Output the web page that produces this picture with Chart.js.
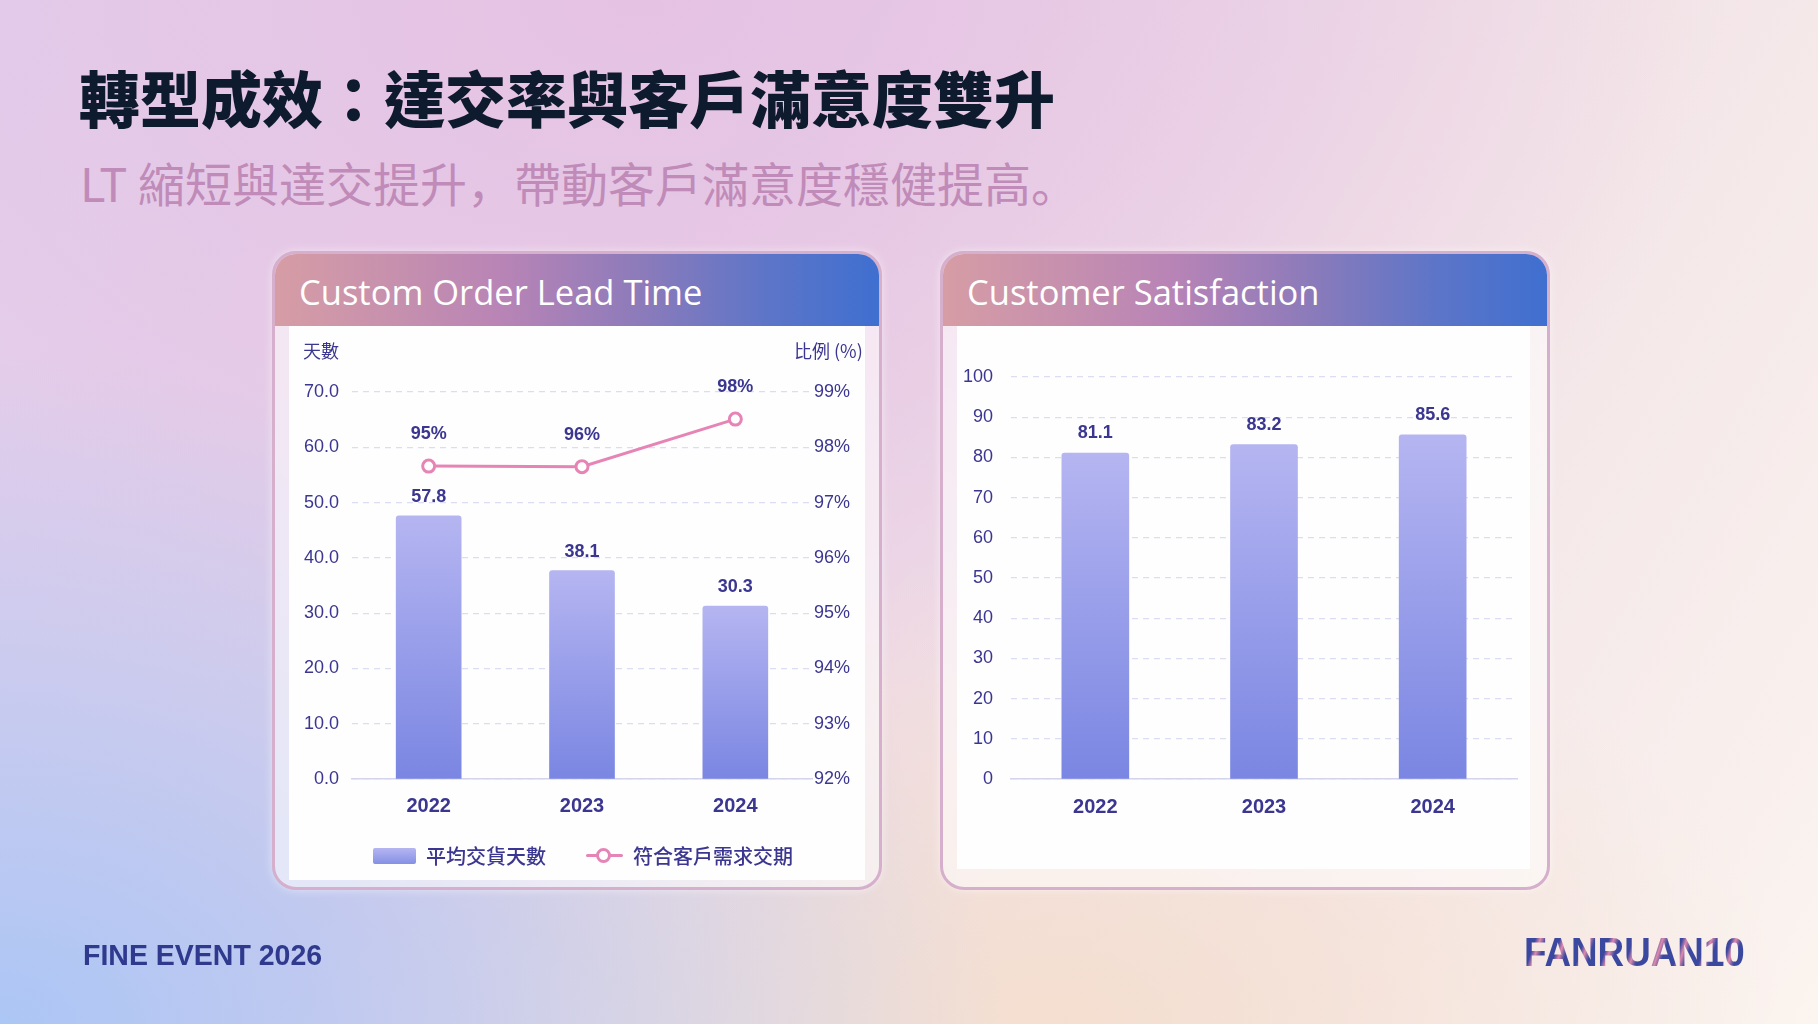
<!DOCTYPE html>
<html lang="zh-Hant">
<head>
<meta charset="utf-8">
<title>轉型成效：達交率與客戶滿意度雙升</title>
<script src="https://cdn.jsdelivr.net/npm/chart.js@4.4.1/dist/chart.umd.min.js"></script>
<style>
  html, body { margin: 0; padding: 0; }
  body {
    width: 1818px; height: 1024px; position: relative; overflow: hidden;
    font-family: "Noto Sans CJK TC", "Noto Sans", sans-serif;
    background:
      radial-gradient(ellipse 55% 65% at 0% 100%, rgba(172,198,245,1) 0%, rgba(172,198,245,0) 100%),
      radial-gradient(ellipse 40% 45% at 58% 100%, rgba(244,222,206,0.95) 0%, rgba(244,222,206,0) 100%),
      radial-gradient(ellipse 60% 70% at 35% 0%, rgba(229,194,228,1) 0%, rgba(229,194,228,0) 100%),
      linear-gradient(120deg, #e2cfee 0%, #e8cfe5 35%, #f2e3e7 65%, #fbf4ef 100%);
  }
  .title {
    position: absolute; left: 79px; top: 66px;
    font-size: 61px; line-height: 61px; font-weight: 900; color: #0e1a2d;
    white-space: nowrap;
  }
  .subtitle {
    position: absolute; left: 80px; top: 158px;
    font-family: "Noto Sans CJK SC", "Noto Sans CJK TC", sans-serif;
    font-size: 47px; line-height: 47px; font-weight: 400; color: #c08bb8;
    white-space: nowrap;
  }
  .card {
    position: absolute; top: 251px; width: 610px; height: 639px;
    box-sizing: border-box; border: 3px solid #d5afcc; border-radius: 24px;
    background: rgba(255,255,255,0.55); overflow: hidden;
    box-shadow: 0 0 10px rgba(255,255,255,0.5);
  }
  .head {
    height: 72px; box-sizing: border-box; padding-left: 24px; padding-top: 4px;
    background: linear-gradient(90deg, #d69da5 0%, #b884b6 38%, #8d7bba 60%, #5c75c8 82%, #3f6fd0 100%);
    font-family: "Open Sans", "Noto Sans", sans-serif; font-size: 34.5px; font-weight: 500; line-height: 68px;
    color: #fff; white-space: nowrap;
  }
  .panel { position: absolute; top: 72px; left: 14px; background: #fefeff; }
  .axis-note {
    position: absolute; font-size: 18px; line-height: 18px; color: #3b3690; white-space: nowrap;
  }
  .legend-text {
    position: absolute; font-size: 20px; line-height: 20px; font-weight: 500; color: #3b3690; white-space: nowrap;
  }
  .swatch {
    position: absolute; left: 373px; top: 848px; width: 43px; height: 16px; border-radius: 2px;
    background: linear-gradient(180deg, #b5b5f1, #8590e4);
  }
  .leg-line { position: absolute; left: 586px; top: 854px; width: 37px; height: 3px; background: #e685b5; border-radius: 2px; }
  .leg-dot {
    position: absolute; left: 596px; top: 848px; width: 9px; height: 9px; border-radius: 50%;
    background: #fff; border: 3px solid #e685b5;
  }
  .footer {
    position: absolute; left: 83px; top: 939px; font-family: "Liberation Sans", Arial, sans-serif;
    font-weight: 700; font-size: 30px; line-height: 32px; color: #2f3a8e;
    transform: scaleX(0.95); transform-origin: left center; white-space: nowrap;
  }
  .logo {
    position: absolute; left: 1524px; top: 932px; font-family: "Liberation Sans", Arial, sans-serif;
    font-weight: 700; font-size: 40px; line-height: 40px; white-space: nowrap;
    transform: scaleX(0.92); transform-origin: left center;
    background: repeating-linear-gradient(110deg, #3b48a0 0px, #3b48a0 14px, #e08aac 19px, #3b48a0 25px);
    -webkit-background-clip: text; background-clip: text; color: transparent;
  }
  canvas { position: absolute; }
</style>
</head>
<body>
<div class="title">轉型成效：達交率與客戶滿意度雙升</div>
<div class="subtitle" lang="zh-Hans">LT 縮短與達交提升，帶動客戶滿意度穩健提高。</div>

<div class="card" style="left:272px;">
  <div class="head">Custom Order Lead Time</div>
  <div class="panel" style="width:576px;height:554px;"></div>
</div>
<div class="card" style="left:940px;">
  <div class="head">Customer Satisfaction</div>
  <div class="panel" style="width:573px;height:543px;"></div>
</div>

<canvas id="leadChart" width="576" height="554" style="left:289px;top:327px;"></canvas>
<canvas id="satChart" width="573" height="543" style="left:957px;top:327px;"></canvas>

<div class="axis-note" style="left:303px;top:341px;">天數</div>
<div class="axis-note" style="left:794px;top:341px;">比例 (%)</div>

<div class="swatch"></div>
<div class="legend-text" style="left:426px;top:846px;">平均交貨天數</div>
<div class="leg-line"></div>
<div class="leg-dot"></div>
<div class="legend-text" style="left:633px;top:846px;">符合客戶需求交期</div>

<div class="footer">FINE EVENT 2026</div>
<div class="logo">FANRUAN10</div>

<script>
// categories
const years = ['2022', '2023', '2024'];

// lead time chart: bar heights as drawn, and the printed labels
const leadDays = [47.6, 37.7, 31.3];
const leadDayLabels = ['57.8', '38.1', '30.3'];
const onTimeRate = [97.66, 97.65, 98.51];
const onTimeLabels = ['95%', '96%', '98%'];

// satisfaction chart
const satScores = [81.1, 83.2, 85.6];
const satLabels = ['81.1', '83.2', '85.6'];

// axis ticks
const leadDayTicks = [0, 10, 20, 30, 40, 50, 60, 70];
const rateTicks = [92, 93, 94, 95, 96, 97, 98, 99];
const satTicks = [0, 10, 20, 30, 40, 50, 60, 70, 80, 90, 100];

const textColor = '#3b3690';
const gridColor = '#dcdcf2';
const pink = '#e685b5';

function barFill(context) {
    const chart = context.chart;
    const area = chart.chartArea;
    if (!area || context.raw === undefined) return '#9aa0ea';
    const top = chart.scales.y.getPixelForValue(context.raw);
    const g = chart.ctx.createLinearGradient(0, top, 0, area.bottom);
    g.addColorStop(0, '#b5b5f1');
    g.addColorStop(1, '#7a86e2');
    return g;
}

// draws the printed value above each bar / point
const valueLabels = {
    id: 'valueLabels',
    afterDatasetsDraw(chart) {
        const ctx = chart.ctx;
        ctx.save();
        ctx.fillStyle = textColor;
        ctx.font = 'bold 18px "Liberation Sans", Arial, sans-serif';
        ctx.textAlign = 'center';
        ctx.textBaseline = 'middle';
        chart.data.datasets.forEach((ds, i) => {
            if (!ds.valueText) return;
            const meta = chart.getDatasetMeta(i);
            meta.data.forEach((el, j) => {
                ctx.fillText(ds.valueText[j], el.x, el.y - ds.valueGap);
            });
        });
        ctx.restore();
    }
};

Chart.defaults.font.family = '"Liberation Sans", Arial, sans-serif';
Chart.defaults.color = textColor;
Chart.defaults.devicePixelRatio = 1;

new Chart(document.getElementById('leadChart'), {
    type: 'bar',
    data: {
        labels: years,
        datasets: [{
            type: 'line',
            label: '符合客戶需求交期',
            data: onTimeRate,
            yAxisID: 'y1',
            order: 0,
            borderColor: pink,
            borderWidth: 3,
            pointRadius: 6,
            pointBorderWidth: 3,
            pointBackgroundColor: '#ffffff',
            pointBorderColor: pink,
            tension: 0,
            valueText: onTimeLabels,
            valueGap: 32
        }, {
            label: '平均交貨天數',
            data: leadDays,
            yAxisID: 'y',
            order: 1,
            backgroundColor: barFill,
            barThickness: 65,
            borderRadius: { topLeft: 3, topRight: 3 },
            borderSkipped: 'bottom',
            valueText: leadDayLabels,
            valueGap: 19
        }]
    },
    options: {
        responsive: false,
        animation: false,
        layout: { padding: { top: 65, left: 0, right: 0, bottom: 0 } },
        plugins: { legend: { display: false }, tooltip: { enabled: false } },
        scales: {
            x: {
                grid: { display: false, drawTicks: false },
                border: { display: true, color: '#d4d4ee', width: 1.5 },
                ticks: { padding: 15, font: { size: 20, weight: 'bold' }, color: textColor },
                afterFit(scale) { scale.height = 102; }
            },
            y: {
                min: 0, max: 70,
                afterBuildTicks(scale) { scale.ticks = leadDayTicks.map(v => ({ value: v })); },
                grid: { color: gridColor, lineWidth: 1.2, drawTicks: false },
                border: { display: false, dash: [6, 5] },
                ticks: { padding: 13, font: { size: 18 }, color: textColor, callback: v => v.toFixed(1) },
                afterFit(scale) { scale.width = 63; }
            },
            y1: {
                position: 'right',
                min: 92, max: 99,
                afterBuildTicks(scale) { scale.ticks = rateTicks.map(v => ({ value: v })); },
                grid: { display: false, drawTicks: false },
                border: { display: false },
                ticks: { padding: 2, font: { size: 18 }, color: textColor, callback: v => v + '%' },
                afterFit(scale) { scale.width = 53; }
            }
        }
    },
    plugins: [valueLabels]
});

new Chart(document.getElementById('satChart'), {
    type: 'bar',
    data: {
        labels: years,
        datasets: [{
            label: 'Customer Satisfaction',
            data: satScores,
            backgroundColor: barFill,
            barThickness: 67,
            borderRadius: { topLeft: 3, topRight: 3 },
            borderSkipped: 'bottom',
            valueText: satLabels,
            valueGap: 20
        }]
    },
    options: {
        responsive: false,
        animation: false,
        layout: { padding: { top: 50, left: 0, right: 13, bottom: 0 } },
        plugins: { legend: { display: false }, tooltip: { enabled: false } },
        scales: {
            x: {
                grid: { display: false, drawTicks: false },
                border: { display: true, color: '#d4d4ee', width: 1.5 },
                ticks: { padding: 16, font: { size: 20, weight: 'bold' }, color: textColor },
                afterFit(scale) { scale.height = 91; }
            },
            y: {
                min: 0, max: 100,
                afterBuildTicks(scale) { scale.ticks = satTicks.map(v => ({ value: v })); },
                grid: { color: gridColor, lineWidth: 1.2, drawTicks: false },
                border: { display: false, dash: [6, 5] },
                ticks: { padding: 18, font: { size: 18 }, color: textColor },
                afterFit(scale) { scale.width = 54; }
            }
        }
    },
    plugins: [valueLabels]
});
</script>
</body>
</html>
